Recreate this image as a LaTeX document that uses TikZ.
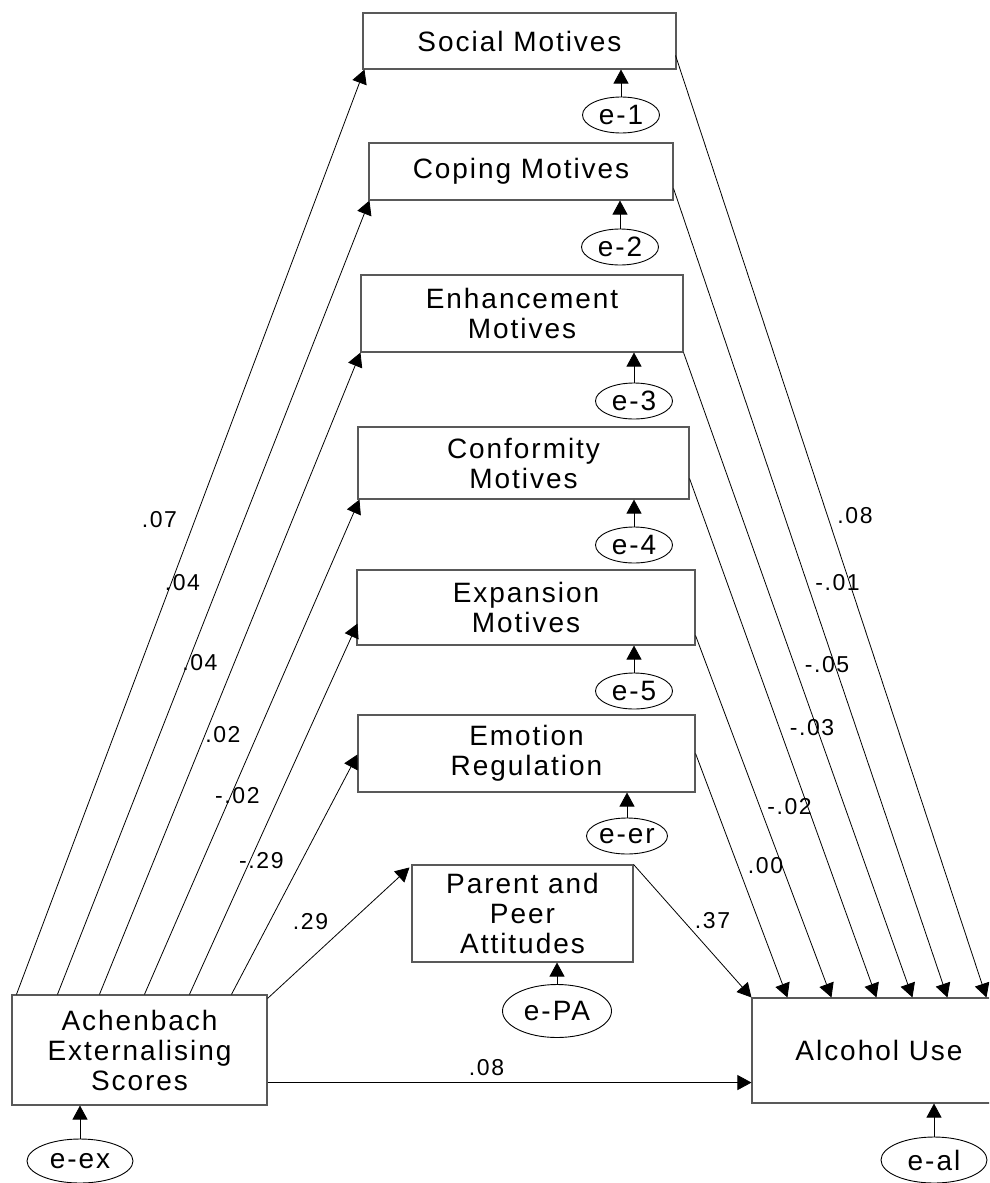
\documentclass[tikz,border=0pt]{standalone}
\usepackage{fontspec}
\setmainfont{Liberation Sans}[LetterSpace=7]
\usetikzlibrary{arrows.meta,calc,shapes.geometric}

\begin{document}
\begin{tikzpicture}[x=1pt,y=-1pt,
  box/.style={draw=black!65,line width=1.1pt,rectangle,inner sep=0pt,align=center,
    font=\fontsize{28}{30}\selectfont},
  err/.style={draw=black,line width=0.9pt,ellipse,inner sep=0pt,
    font=\fontsize{28}{30}\selectfont},
  link/.style={line width=0.8pt,-{Triangle[length=14pt,width=15pt]}},
  lbl/.style={font=\fontsize{23}{24}\selectfont,inner sep=0pt,pos=0.5}]

\fill[white] (0,0) rectangle (989,1183);
\useasboundingbox (0,0) rectangle (989,1183);
\clip (0,0) rectangle (989,1183);

% observed variables
\node[box,minimum width=313pt,minimum height=56pt] (soc) at (519.5,41) {Social Motives};
\node[box,minimum width=304pt,minimum height=57pt] (cop) at (521,171.5) {Coping Motives};
\node[box,minimum width=322pt,minimum height=77pt] (enh) at (522,313.5) {Enhancement\\Motives};
\node[box,minimum width=331pt,minimum height=72pt] (con) at (523.5,463) {Conformity\\Motives};
\node[box,minimum width=338pt,minimum height=75pt] (exp) at (526,607.5) {Expansion\\Motives};
\node[box,minimum width=337pt,minimum height=77pt] (emo) at (526.5,753.5) {Emotion\\Regulation};
\node[box,minimum width=221pt,minimum height=97pt] (par) at (522.5,913.5) {Parent and\\Peer\\Attitudes};
\node[box,minimum width=255pt,minimum height=110pt] (ach) at (139.5,1050) {Achenbach\\Externalising\\Scores};
\node[box,minimum width=254pt,minimum height=105pt] (alc) at (879,1050.5) {Alcohol Use};

% error terms
\node[err,minimum width=77pt,minimum height=36pt] (e1) at (621,115) {e-1};
\node[err,minimum width=77pt,minimum height=36pt] (e2) at (620,247) {e-2};
\node[err,minimum width=77pt,minimum height=36pt] (e3) at (634,401) {e-3};
\node[err,minimum width=77pt,minimum height=36pt] (e4) at (634,545) {e-4};
\node[err,minimum width=77pt,minimum height=36pt] (e5) at (634,691) {e-5};
\node[err,minimum width=81pt,minimum height=36pt] (eer) at (627,836) {e-er};
\node[err,minimum width=109pt,minimum height=53pt] (epa) at (557,1011) {e-PA};
\node[err,minimum width=106pt,minimum height=44pt] (eex) at (80,1161) {e-ex};
\node[err,minimum width=106pt,minimum height=46pt] (eal) at (934,1160) {e-al};

% error paths
\foreach \e/\v in {e1/soc,e2/cop,e3/enh,e4/con,e5/exp,eer/emo,epa/par,eex/ach,eal/alc}
  \draw[link] (\e.north) -- (\e.north |- \v.south);

% paths from externalising scores
\draw[link] ($(ach.north west)+(5,0)$) --
  node[lbl,xshift=-31pt,yshift=12pt]{.07} ($(soc.south west)+(2,0)$);
\draw[link] ($(ach.north west)+(46,0)$) --
  node[lbl,xshift=-31pt,yshift=15pt]{.04} ($(cop.south west)+(1,0)$);
\draw[link] ($(ach.north west)+(88,0)$) --
  node[lbl,xshift=-30pt,yshift=11pt]{.04} (enh.south west);
\draw[link] ($(ach.north west)+(133,0)$) --
  node[lbl,xshift=-29pt,yshift=12pt]{.02} ($(con.south west)+(2,0)$);
\draw[link] ($(ach.north west)+(178,0)$) --
  node[lbl,xshift=-36pt,yshift=13pt]{-.02} ($(exp.south west)+(1,-22)$);
\draw[link] ($(ach.north west)+(220,0)$) --
  node[lbl,xshift=-33pt,yshift=14pt]{-.29} ($(emo.north west)+(0,40)$);
\draw[link] ($(ach.north east)+(0,4)$) --
  node[lbl,xshift=-28pt,yshift=11pt]{.29} ($(par.north west)+(-2,3)$);
\draw[link] ($(ach.south east)+(0,-23)$) --
  node[lbl,xshift=-23pt,yshift=15pt]{.08} ($(alc.south west)+(0,-21)$);

% paths into alcohol use
\draw[link] ($(soc.south east)+(-1,-14)$) --
  node[lbl,xshift=24pt,yshift=11pt]{.08} ($(alc.north west)+(235,0)$);
\draw[link] ($(cop.south east)+(0,-12)$) --
  node[lbl,xshift=27pt,yshift=10pt]{-.01} ($(alc.north west)+(196,0)$);
\draw[link] (enh.south east) --
  node[lbl,xshift=29pt,yshift=10pt]{-.05} ($(alc.north west)+(161,0)$);
\draw[link] ($(con.south east)+(0,-21)$) --
  node[lbl,xshift=29pt,yshift=10pt]{-.03} ($(alc.north west)+(125,0)$);
\draw[link] ($(exp.south east)+(0,-10)$) --
  node[lbl,xshift=26pt,yshift=10pt]{-.02} ($(alc.north west)+(80,0)$);
\draw[link] (emo.east) --
  node[lbl,xshift=24pt,yshift=10pt]{.00} ($(alc.north west)+(36,0)$);
\draw[link] (par.north east) --
  node[lbl,xshift=20pt,yshift=10pt]{.37} (alc.north west);
\end{tikzpicture}
\end{document}
